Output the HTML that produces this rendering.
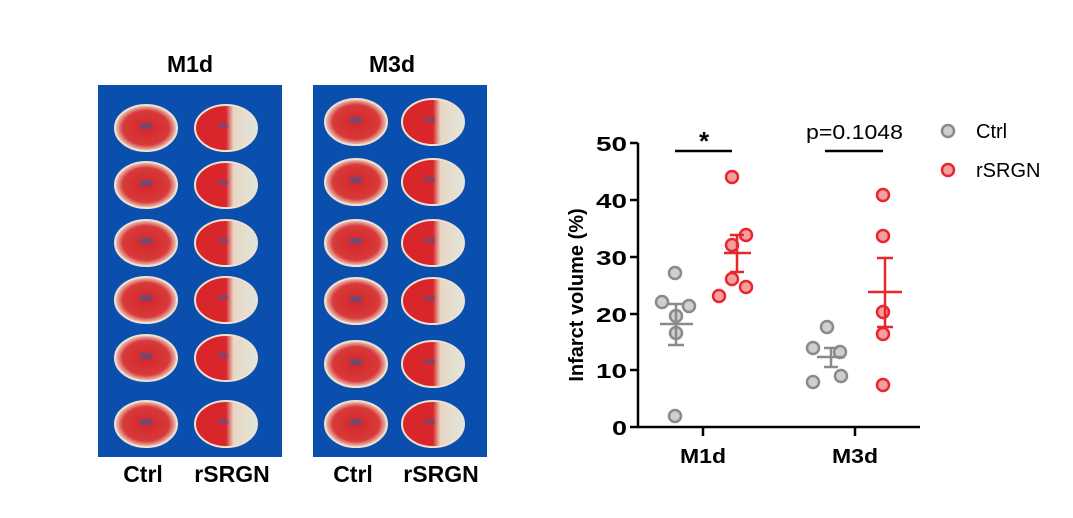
<!DOCTYPE html><html><head><style>body{margin:0;background:#fff;width:1073px;height:513px;overflow:hidden}</style></head><body>
<svg width="1073" height="513" xmlns="http://www.w3.org/2000/svg" font-family="Liberation Sans, Arial, sans-serif">
<defs>
<linearGradient id="inf" x1="0" x2="1"><stop offset="0" stop-color="#d8262b"/><stop offset="0.5" stop-color="#d8262b"/><stop offset="0.62" stop-color="#e9d6c4"/><stop offset="1" stop-color="#dfe6dc"/></linearGradient>
<radialGradient id="ctl"><stop offset="0" stop-color="#d4252a"/><stop offset="0.75" stop-color="#d83a3a"/><stop offset="1" stop-color="#ecd2c4"/></radialGradient>
<g id="bc"><ellipse cx="0" cy="0" rx="31" ry="23" fill="url(#ctl)" stroke="#f0e0d0" stroke-width="2"/><path d="M-6,-5 h12 v6 h-12z" fill="#3a5c9a" opacity="0.6"/></g>
<g id="bi"><ellipse cx="0" cy="0" rx="31" ry="23" fill="url(#inf)" stroke="#f0e0d0" stroke-width="2"/><path d="M-8,-5 h10 v5 h-10z" fill="#3a5c9a" opacity="0.5"/></g>
</defs>
<rect x="98" y="85" width="184" height="372" fill="#0b4fae"/>
<rect x="313" y="85" width="174" height="372" fill="#0b4fae"/>
<g>
<use href="#bc" x="146" y="128"/><use href="#bi" x="226" y="128"/>
<use href="#bc" x="146" y="185"/><use href="#bi" x="226" y="185"/>
<use href="#bc" x="146" y="243"/><use href="#bi" x="226" y="243"/>
<use href="#bc" x="146" y="300"/><use href="#bi" x="226" y="300"/>
<use href="#bc" x="146" y="358"/><use href="#bi" x="226" y="358"/>
<use href="#bc" x="146" y="424"/><use href="#bi" x="226" y="424"/>
<use href="#bc" x="356" y="122"/><use href="#bi" x="433" y="122"/>
<use href="#bc" x="356" y="182"/><use href="#bi" x="433" y="182"/>
<use href="#bc" x="356" y="243"/><use href="#bi" x="433" y="243"/>
<use href="#bc" x="356" y="301"/><use href="#bi" x="433" y="301"/>
<use href="#bc" x="356" y="364"/><use href="#bi" x="433" y="364"/>
<use href="#bc" x="356" y="424"/><use href="#bi" x="433" y="424"/>
</g>
<g font-weight="bold" font-size="23" text-anchor="middle" fill="#000">
<text x="190" y="72">M1d</text><text x="392" y="72">M3d</text>
<text x="143" y="482">Ctrl</text><text x="232" y="482">rSRGN</text>
<text x="353" y="482">Ctrl</text><text x="441" y="482">rSRGN</text>
</g>
<g stroke="#000" stroke-width="2.5" fill="none">
<path d="M638,143 V427 H920"/>
<path d="M630,143h8M630,200h8M630,257h8M630,314h8M630,370h8M630,427h8"/>
<path d="M703,427v9M855,427v9"/>
<path d="M675,151h57M825,151h58"/>
</g>
<g font-weight="bold" font-size="20" fill="#000">
<text x="596" y="151" textLength="31" lengthAdjust="spacingAndGlyphs">50</text>
<text x="596" y="208" textLength="31" lengthAdjust="spacingAndGlyphs">40</text>
<text x="596" y="265" textLength="31" lengthAdjust="spacingAndGlyphs">30</text>
<text x="596" y="322" textLength="31" lengthAdjust="spacingAndGlyphs">20</text>
<text x="596" y="378" textLength="31" lengthAdjust="spacingAndGlyphs">10</text>
<text x="612" y="435" textLength="15" lengthAdjust="spacingAndGlyphs">0</text>
</g>
<text transform="translate(583,295) rotate(-90)" font-weight="bold" font-size="20" text-anchor="middle">Infarct volume (%)</text>
<g font-weight="bold" font-size="20"><text x="680" y="463" textLength="46" lengthAdjust="spacingAndGlyphs">M1d</text><text x="832" y="463" textLength="46" lengthAdjust="spacingAndGlyphs">M3d</text></g>
<text x="704" y="150" font-weight="bold" font-size="26" text-anchor="middle">*</text>
<text x="806" y="139" font-size="20" textLength="97" lengthAdjust="spacingAndGlyphs">p=0.1048</text>
<g stroke="#8a8a8a" stroke-width="2.5" fill="#cfcfcf">
<circle cx="675" cy="273" r="6"/><circle cx="662" cy="302" r="6"/><circle cx="689" cy="306" r="6"/><circle cx="676" cy="316" r="6"/><circle cx="676" cy="333" r="6"/><circle cx="675" cy="416" r="6"/>
<circle cx="827" cy="327" r="6"/><circle cx="813" cy="348" r="6"/><circle cx="840" cy="352" r="6"/><circle cx="813" cy="382" r="6"/><circle cx="841" cy="376" r="6"/>
<path fill="none" d="M660,324h33M676,304v41M668,304h16M668,345h16M817,357h28M831,348v19M824,348h14M824,367h14"/>
</g>
<g stroke="#e8262d" stroke-width="2.5" fill="#f5a0a0">
<circle cx="732" cy="177" r="6"/><circle cx="746" cy="235" r="6"/><circle cx="732" cy="245" r="6"/><circle cx="719" cy="296" r="6"/><circle cx="732" cy="279" r="6"/><circle cx="746" cy="287" r="6"/>
<circle cx="883" cy="195" r="6"/><circle cx="883" cy="236" r="6"/><circle cx="883" cy="312" r="6"/><circle cx="883" cy="334" r="6"/><circle cx="883" cy="385" r="6"/>
<path fill="none" d="M724,253h27M737,235v37M730,235h14M730,272h14M868,292h34M885,258v69M877,258h16M877,327h16"/>
</g>
<circle cx="948" cy="131" r="6" fill="#cfcfcf" stroke="#8a8a8a" stroke-width="2.5"/>
<text x="976" y="138" font-size="20">Ctrl</text>
<circle cx="948" cy="170" r="6" fill="#f5a0a0" stroke="#e8262d" stroke-width="2.5"/>
<text x="976" y="177" font-size="20">rSRGN</text>
</svg>
</body></html>
